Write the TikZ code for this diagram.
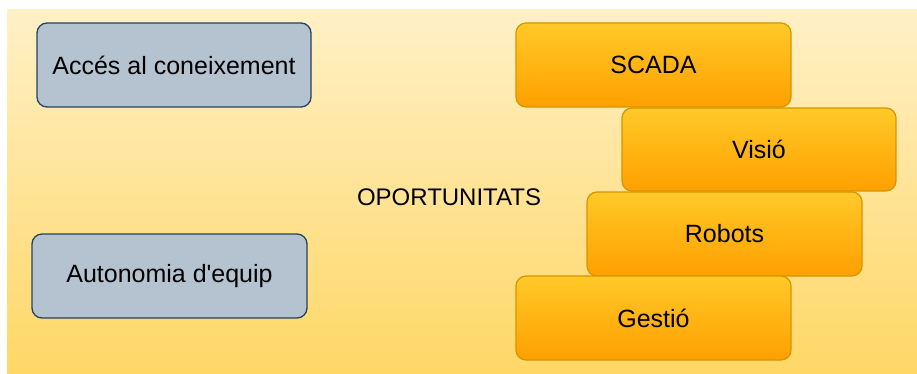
\documentclass[tikz,border=0pt]{standalone}
\usepackage{fontspec}
\setmainfont{Liberation Sans}
\begin{document}
\begin{tikzpicture}[x=1pt,y=-1pt,
  grey box/.style={draw=boxstroke, line width=1.3pt, fill=boxfill,
    rounded corners=10pt},
  orange box/.style={draw=orangestroke, line width=1.2pt, rounded corners=10pt,
    top color=orangetop, bottom color=orangebottom},
  lbl/.style={font=\fontsize{25}{30}\selectfont, text=black, anchor=center}]
\definecolor{bgtop}{HTML}{FFF0C6}
\definecolor{bgbottom}{HTML}{FFD766}
\definecolor{boxfill}{HTML}{B5C3D0}
\definecolor{boxstroke}{HTML}{23445D}
\definecolor{orangetop}{HTML}{FFC928}
\definecolor{orangebottom}{HTML}{FFA000}
\definecolor{orangestroke}{HTML}{D49600}
% page and background panel
\useasboundingbox (0,0) rectangle (917,374);
\fill[white] (0,0) rectangle (917,374);
\shade[top color=bgtop, bottom color=bgbottom] (7,10) rectangle (917,374);
% left column
\draw[grey box] (37,23) rectangle (311,107);
\node[lbl] (acces) at (174,65) {Accés al coneixement};
\draw[grey box] (32,234) rectangle (307,318);
\node[lbl] (autonomia) at (169.5,276) {Autonomia d\textquotesingle equip};
% central label
\node[lbl, font=\fontsize{24}{29}\selectfont] (oport) at (449,197) {OPORTUNITATS};
% stacked opportunities
\draw[orange box] (516,23) rectangle (791,107);
\node[lbl] (scada) at (653.5,65) {SCADA};
\draw[orange box] (622,108) rectangle (896,191);
\node[lbl] (visio) at (759,149.5) {Visió};
\draw[orange box] (587,192) rectangle (862,276);
\node[lbl] (robots) at (724.5,234) {Robots};
\draw[orange box] (516,276) rectangle (791,360);
\node[lbl] (gestio) at (653.5,318) {Gestió};
\end{tikzpicture}
\end{document}
